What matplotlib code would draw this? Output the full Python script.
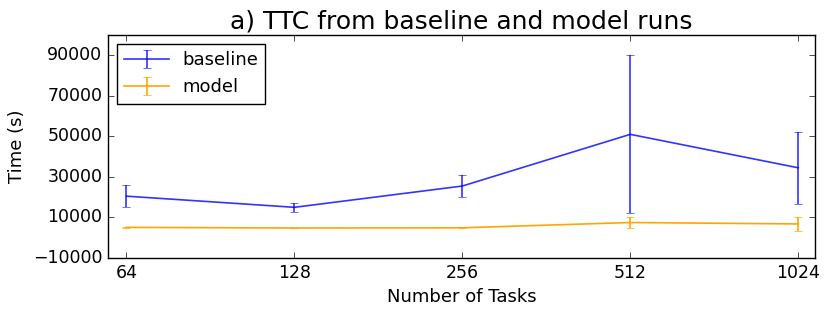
import matplotlib
matplotlib.use("Agg")
import matplotlib.pyplot as plt
import numpy as np

plt.style.use('classic')

tasks = ["64", "128", "256", "512", "1024"]
baseline_mean = [20500, 15000, 25500, 51000, 34500]
baseline_err = [5400, 2300, 5600, 39000, 17800]
model_mean = [5100, 4800, 4900, 7500, 6800]
model_err = [200, 150, 150, 2500, 3400]

fig = plt.figure(figsize=(8.3, 3.14), dpi=100, facecolor='white')
ax = fig.add_axes([108/830, 1-258/314, (815-108)/830, (258-35)/314])
x = np.arange(len(tasks))
ax.errorbar(x, baseline_mean, yerr=baseline_err, color='blue', alpha=0.8,
            capsize=3, label='baseline', lw=1.2)
ax.errorbar(x, model_mean, yerr=model_err, color='orange',
            capsize=3, label='model', lw=1.2)
ax.set_xticks(x)
ax.set_xticklabels(tasks)
ax.set_xlim(-0.11, 4.1)
ax.set_ylim(-10000, 100000)
ax.set_yticks([-10000, 10000, 30000, 50000, 70000, 90000])
ax.set_xlabel("Number of Tasks", fontsize=13)
ax.set_ylabel("Time (s)", fontsize=13)
ax.set_title("a) TTC from baseline and model runs", fontsize=18)
ax.tick_params(labelsize=12.5)
ax.legend(loc='upper left', fontsize=13, numpoints=1, handlelength=2.5,
          handletextpad=0.7, borderaxespad=0.5)
fig.savefig("out.png", dpi=100, facecolor='white')
